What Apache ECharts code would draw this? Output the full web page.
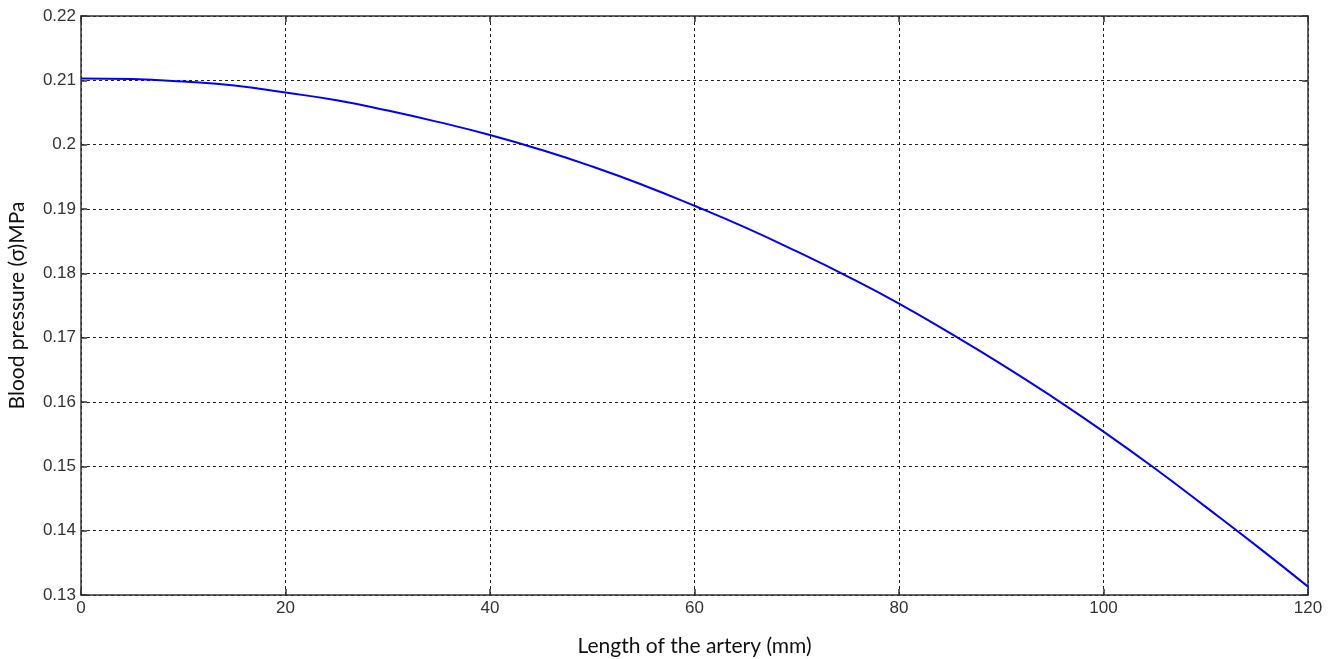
<!DOCTYPE html>
<html>
<head>
<meta charset="utf-8">
<script src="https://cdn.jsdelivr.net/npm/echarts@6/dist/echarts.min.js"></script>
<style>
  html, body { margin: 0; padding: 0; background: #fff; }
  #chart { width: 1334px; height: 659px; }
</style>
</head>
<body>
<div id="chart"></div>
<script>
// artery length (mm) and blood pressure (MPa)
const lengthMm = [0, 5, 10, 15, 20, 25, 30, 35, 40, 45, 50, 55, 60,
    65, 70, 75, 80, 85, 90, 95, 100, 105, 110, 115, 120];
const pressure = [0.2103, 0.2102, 0.2098, 0.2092, 0.2081, 0.2069, 0.2053, 0.2035, 0.2015,
    0.1992, 0.1966, 0.1937, 0.1905, 0.1871, 0.1834, 0.1795, 0.1753, 0.1707, 0.1659,
    0.1608, 0.1554, 0.1497, 0.1437, 0.1376, 0.1313];

const tickFont = { fontFamily: 'Liberation Sans, Arial, sans-serif', fontSize: 17, color: '#333' };
const nameFont = { fontFamily: 'Lato, Open Sans, sans-serif', fontSize: 21, color: '#111' };
const frameLine = { show: true, onZero: false, lineStyle: { color: '#333', width: 1.5 } };
const inTicks = { show: true, inside: true, length: 6, lineStyle: { color: '#333', width: 1.5 } };
const gridLines = { show: true, lineStyle: { color: '#222', type: [3, 3], width: 1 } };

const chart = echarts.init(document.getElementById('chart'));

chart.setOption({
    animation: false,
    grid: { left: 81, right: 26, top: 16, bottom: 64, outerBoundsMode: 'none', containLabel: false },
    xAxis: [{
        type: 'value', min: 0, max: 120, interval: 20,
        name: 'Length of the artery (mm)', nameLocation: 'middle', nameGap: 41,
        nameTextStyle: nameFont,
        axisLine: frameLine, axisTick: inTicks, splitLine: gridLines,
        axisLabel: Object.assign({ margin: 5 }, tickFont)
    }, {
        type: 'value', position: 'top', min: 0, max: 120, interval: 20,
        axisLine: frameLine, axisTick: inTicks, splitLine: { show: false },
        axisLabel: { show: false }
    }],
    yAxis: [{
        type: 'value', min: 0.13, max: 0.22, interval: 0.01,
        name: 'Blood pressure (σ)MPa', nameLocation: 'middle', nameGap: 53,
        nameTextStyle: nameFont,
        axisLine: frameLine, axisTick: inTicks, splitLine: gridLines,
        axisLabel: Object.assign({ margin: 5, formatter: v => String(+v.toFixed(2)) }, tickFont)
    }, {
        type: 'value', position: 'right', min: 0.13, max: 0.22, interval: 0.01,
        axisLine: frameLine, axisTick: inTicks, splitLine: { show: false },
        axisLabel: { show: false }
    }],
    series: [{
        type: 'line',
        data: lengthMm.map((x, i) => [x, pressure[i]]),
        smooth: true,
        showSymbol: false,
        lineStyle: { color: '#0000ff', width: 2 }
    }]
});
</script>
</body>
</html>
